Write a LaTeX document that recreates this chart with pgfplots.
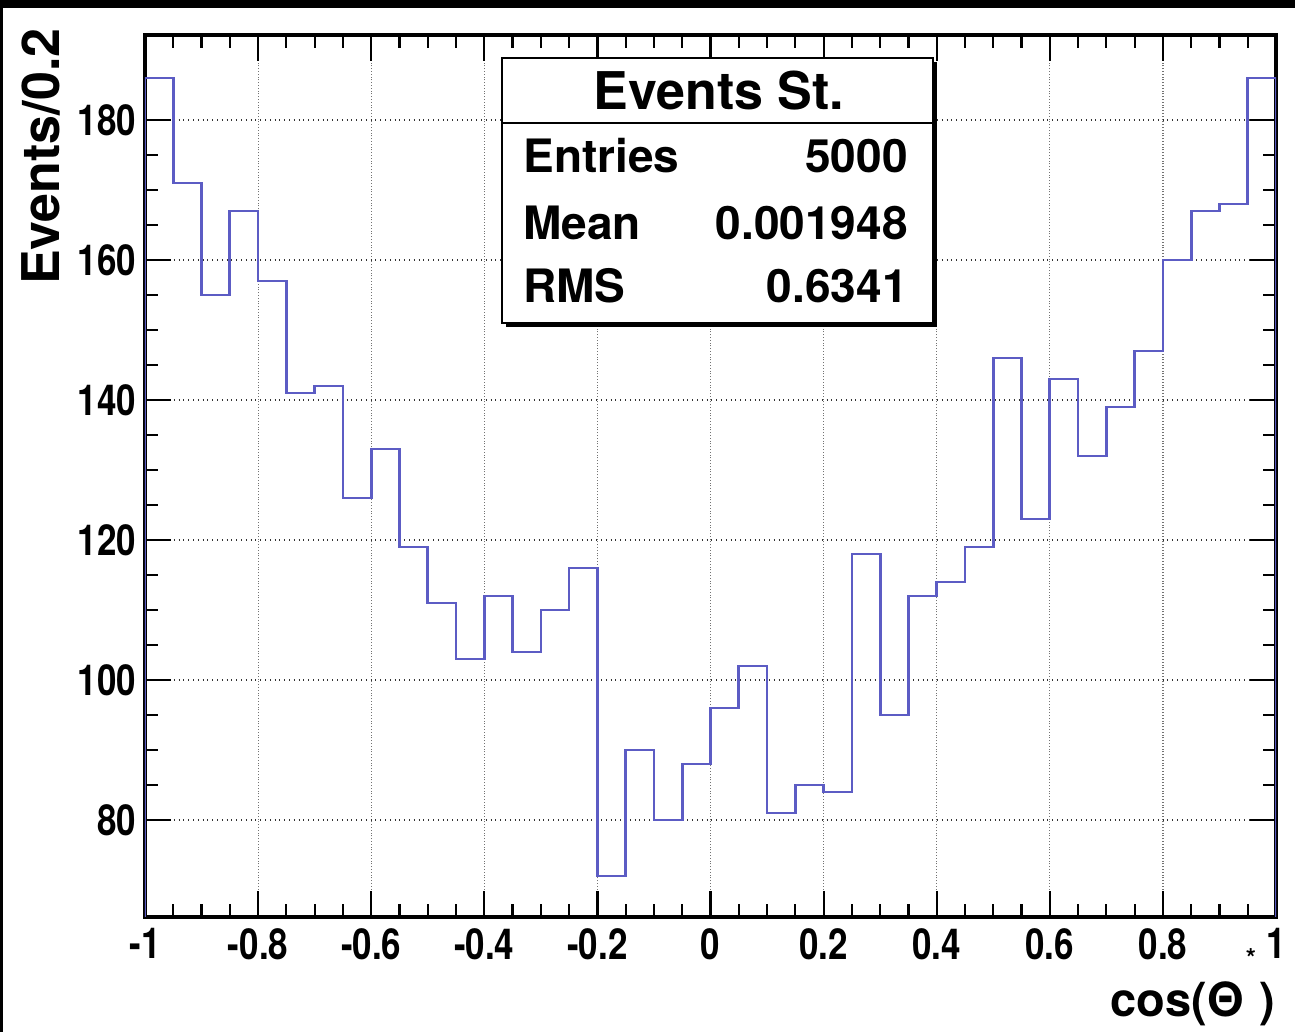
\documentclass[border=0pt]{standalone}
\usepackage{fontspec}
\setmainfont{TeX Gyre Heros}
\usepackage{pgfplots}
\pgfplotsset{compat=1.18}
\definecolor{histcol}{RGB}{92,92,196}
\begin{document}
\begin{tikzpicture}
\useasboundingbox (0,0) rectangle (647.5pt,516pt);
\fill[black] (0,0) rectangle (647.5pt,516pt);
\fill[white] (1.5pt,0) rectangle (647.5pt,512pt);
\begin{axis}[
  at={(72.5pt,57.25pt)}, anchor=south west,
  scale only axis, width=565.5pt, height=441pt,
  xmin=-1, xmax=1, ymin=66.07, ymax=192.07,
  xtick={-1,-0.8,-0.6,-0.4,-0.2,0,0.2,0.4,0.6,0.8,1},
  xticklabels={-1,-0.8,-0.6,-0.4,-0.2,0,0.2,0.4,0.6,0.8,1},
  ytick={80,100,120,140,160,180},
  yticklabels={80,100,120,140,160,180},
  minor x tick num=3, minor y tick num=3,
  tick pos=both, tick align=inside,
  major tick length=13pt, minor tick length=6.5pt,
  every tick/.style={black, line width=1.1pt},
  axis line style={line width=2pt},
  xmajorgrids, ymajorgrids,
  major x grid style={densely dotted, black!55, line width=0.6pt},
  major y grid style={dotted, black!80, line width=0.7pt},
  ticklabel style={font=\fontsize{17.5}{20}\selectfont\bfseries, yscale=1.22, transform shape},
  xticklabel style={yshift=-1pt},
  yticklabel style={xshift=-1pt},
  xlabel={cos(Θ\kern1pt\raisebox{1.05em}{\fontsize{13}{13}\selectfont *}\kern2pt)},
  xlabel style={at={(axis description cs:1.0,-0.1128)}, anchor=base east, inner sep=0pt,
    font=\fontsize{23.5}{26}\selectfont\bfseries},
  ylabel={Events/0.2},
  ylabel style={at={(axis description cs:-0.092,1.0085)}, anchor=east, inner sep=0pt,
    font=\fontsize{26}{30}\selectfont\bfseries},
]
\addplot[const plot mark left, histcol, line width=1.35pt] coordinates {
(-1,66.07) (-1,186) (-0.95,171) (-0.9,155) (-0.85,167) (-0.8,157) (-0.75,141)
(-0.7,142) (-0.65,126) (-0.6,133) (-0.55,119) (-0.5,111) (-0.45,103)
(-0.4,112) (-0.35,104) (-0.3,110) (-0.25,116) (-0.2,72) (-0.15,90)
(-0.1,80) (-0.05,88) (0,96) (0.05,102) (0.1,81) (0.15,85) (0.2,84)
(0.25,118) (0.3,95) (0.35,112) (0.4,114) (0.45,119) (0.5,146) (0.55,123)
(0.6,143) (0.65,132) (0.7,139) (0.75,147) (0.8,160) (0.85,167) (0.9,168)
(0.95,186) (1,186) (1,66.07)
};
\end{axis}
\begin{scope}[shift={(0,516pt)}, x=0.5pt, y=-0.5pt]
\fill[black] (506,62) rectangle (937,327);
\filldraw[fill=white, draw=black, line width=1pt] (502,58) rectangle (933,323);
\draw[black, line width=1pt] (502,123) -- (933,123);
\node[anchor=base, inner sep=0pt, font=\fontsize{26}{30}\selectfont\bfseries] at (719,110) {Events St.};
\begin{scope}[every node/.style={inner sep=0pt, font=\fontsize{23}{26}\selectfont\bfseries}]
\node[anchor=base west] at (523,173) {Entries};
\node[anchor=base east] at (908,173) {5000};
\node[anchor=base west] at (523,240) {Mean};
\node[anchor=base east] at (908,240) {0.001948};
\node[anchor=base west] at (523,303) {RMS};
\node[anchor=base east] at (908,303) {0.6341};
\end{scope}
\end{scope}
\end{tikzpicture}
\end{document}
